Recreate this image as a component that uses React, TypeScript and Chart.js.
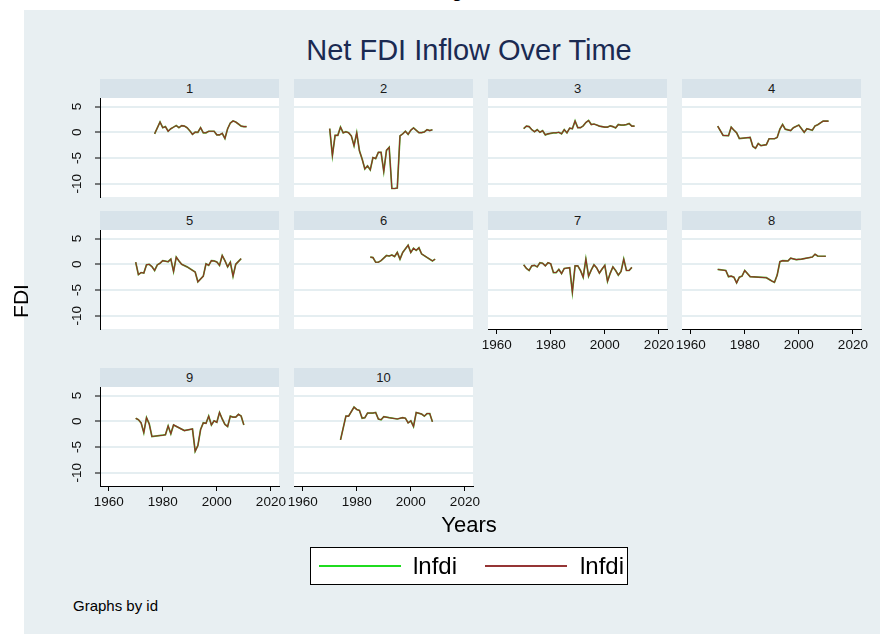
import React, { useEffect, useRef } from "react";
import { Chart, registerables } from "chart.js";

Chart.register(...registerables);

// ---------- data ----------
const years = [
  1970, 1971, 1972, 1973, 1974, 1975, 1976, 1977, 1978, 1979,
  1980, 1981, 1982, 1983, 1984, 1985, 1986, 1987, 1988, 1989,
  1990, 1991, 1992, 1993, 1994, 1995, 1996, 1997, 1998, 1999,
  2000, 2001, 2002, 2003, 2004, 2005, 2006, 2007, 2008, 2009,
  2010, 2011,
];

const panelIds = ["1", "2", "3", "4", "5", "6", "7", "8", "9", "10"];

const fdi1 = [
  null, null, null, null, null, null, null, -0.3, null, 2.0,
  0.9, 1.1, 0.2, 0.7, 1.0, 1.3, 0.9, 1.3, 1.2, 0.9,
  0.3, -0.4, 0.05, 0.0, 0.9, -0.1, -0.1, 0.2, 0.2, 0.2,
  -0.5, -0.5, -0.2, -1.2, 0.7, 1.8, 2.2, 2.0, 1.6, 1.2,
  1.1, 1.1,
];
const fdi2 = [
  0.7, -4.5, -0.6, -0.6, 1.0, -0.1, 0.1, -0.1, -0.7, -2.6,
  -0.1, -3.6, -5.2, -7.1, -6.5, -7.3, -4.9, -5.1, -3.9, -3.9,
  -7.6, -3.5, -2.9, -10.9, -10.9, -10.8, -0.7, -0.3, 0.2, -0.4,
  0.4, 0.85, null, -0.07, -0.07, 0.07, 0.5, 0.33, 0.5, null,
  null, null,
];
const fdi3 = [
  0.7, 1.2, 1.1, 0.5, 0.1, 0.5, 0.0, 0.3, -0.5, -0.3,
  -0.2, -0.1, -0.1, 0.0, -0.3, 0.5, -0.1, 0.8, 0.7, 2.2,
  0.9, 0.9, 1.25, 1.9, 2.3, 1.5, 1.6, 1.4, 1.2, 1.1,
  1.0, 1.0, 1.25, 1.1, 0.85, 1.5, 1.4, 1.4, 1.5, 1.7,
  1.2, 1.2,
];
const fdi4 = [
  1.2, null, -0.6, null, -0.66, 1.0, 0.4, -0.1, -1.2, null,
  null, null, -1.0, -2.75, -3.1, -2.2, -2.6, null, -2.4, -1.25,
  null, -1.25, -1.0, 0.6, 1.5, 0.6, null, 0.33, 0.9, null,
  1.4, null, 0.0, 0.7, null, 0.4, 1.25, 1.45, null, 2.16,
  null, 2.16,
];
const fdi5 = [
  0.4, -2.0, -1.6, -1.7, -0.1, 0.0, -0.45, -1.2, -0.1, 0.2,
  0.7, 0.6, 0.5, 1.0, -1.4, 1.4, 0.65, 0.0, null, -0.5,
  null, null, -1.5, -3.4, null, -2.3, 0.1, -0.2, 0.7, 0.65,
  0.45, -0.2, 1.7, 0.7, -0.5, 0.4, -2.3, 0.0, null, 1.1,
  null, null,
];
const fdi6 = [
  null, null, null, null, null, null, null, null, null, null,
  null, null, null, null, null, 1.4, 1.3, 0.4, 0.4, 0.7,
  null, 1.7, 1.6, 1.8, 1.5, 2.3, 1.0, 2.3, null, 3.7,
  2.3, 3.1, 2.7, 3.2, 2.0, null, null, null, 0.65, 1.0,
  null, null,
];
const fdi7 = [
  -0.1, -0.8, -1.2, -0.3, -0.2, -0.5, 0.3, 0.2, -0.3, 0.3,
  0.1, -1.6, -1.6, -1.0, -1.8, -0.8, null, -0.65, -5.4, -0.3,
  -0.3, -1.2, -2.5, 1.0, -2.3, -1.1, -0.1, -0.7, -1.7, -0.9,
  -0.2, -3.3, -1.75, -0.5, -1.2, -2.1, -1.4, 1.0, -1.2, -1.2,
  -0.6, null,
];
const fdi8 = [
  -1.0, null, null, -1.2, -2.4, -2.3, -2.5, -3.6, -2.5, -2.3,
  -1.2, null, -2.4, null, null, null, null, null, -2.6, null,
  -3.25, -3.5, -2.1, 0.5, 0.7, null, 0.65, 1.2, null, 0.9,
  null, 1.0, null, null, null, 1.4, 1.95, 1.6, null, null,
  1.56, null,
];
const fdi9 = [
  0.6, 0.3, -0.3, -2.2, 0.7, -0.5, -2.95, null, null, null,
  -2.7, -2.6, -0.9, -2.4, -0.7, null, null, null, -1.8, null,
  null, -1.5, -5.8, -4.7, -1.6, -0.3, -0.4, 1.0, -0.7, 0.1,
  -0.2, 1.7, 0.45, -0.6, -1.0, 1.0, 0.8, 0.8, 1.35, 1.0,
  -0.7, null,
];
const fdi10 = [
  null, null, null, null, -3.6, null, 1.0, 1.0, null, 2.75,
  2.3, 2.1, 0.6, 0.7, 1.6, null, 1.6, 1.7, 0.45, 0.3,
  0.9, null, 0.7, null, null, 0.45, null, 0.7, 0.6, -0.3,
  0.1, -1.0, 1.7, null, 1.4, 1.0, 1.5, 1.5, -0.1, null,
  null, null,
];

const panelValues = [fdi1, fdi2, fdi3, fdi4, fdi5, fdi6, fdi7, fdi8, fdi9, fdi10];

const xTicks = [1960, 1980, 2000, 2020];
const yTicks = [-10, -5, 0, 5];
const seriesLabels = ["lnfdi", "lnfdi"];

// ---------- style / layout ----------
const FONT = "'Liberation Sans', Arial, Helvetica, sans-serif";
const BG = "#e8eff2";
const STRIP = "#d8e3ea";
const GRID = "#e5eef1";
const GREEN = "#4fb02f";
const RED = "#8e2f26";
const LEGEND_GREEN = "#1fdc1f";
const LEGEND_RED = "#953535";

const COL_LEFT = [100, 294, 488, 682];
const ROW_TOP = [98, 230, 387];
const PLOT_W = 179;
const PLOT_H = 99;
const Y_AXIS_W = 40;
const X_AXIS_H = 30;
const PAD = 20;
const Y_LABEL_OFFSET = 23; // distance from axis line to centre of rotated label

const whitePlot = {
  id: "whitePlot",
  beforeDraw(chart: any) {
    const { ctx, chartArea } = chart;
    ctx.save();
    ctx.fillStyle = "#ffffff";
    ctx.fillRect(chartArea.left, chartArea.top, chartArea.right - chartArea.left, chartArea.bottom - chartArea.top);
    ctx.restore();
  },
};

// vertical (rotated) tick labels of the y scale, placed with the scale itself
const rotatedYLabels = {
  id: "rotatedYLabels",
  afterDraw(chart: any, _args: any, opts: any) {
    if (!opts || !opts.show) return;
    const scale = chart.scales.y;
    const { ctx } = chart;
    ctx.save();
    ctx.fillStyle = "#111";
    ctx.font = `13.5px ${FONT}`;
    ctx.textAlign = "center";
    ctx.textBaseline = "middle";
    const x = scale.right - Y_LABEL_OFFSET;
    for (const t of scale.ticks) {
      const y = scale.getPixelForValue(t.value);
      ctx.save();
      ctx.translate(x, y);
      ctx.rotate(-Math.PI / 2);
      ctx.fillText(String(t.value), 0, 0);
      ctx.restore();
    }
    ctx.restore();
  },
};

function Panel({ index }: { index: number }) {
  const ref = useRef<HTMLCanvasElement | null>(null);
  const row = Math.floor(index / 4);
  const col = index % 4;
  const showY = col === 0;
  const showX = index >= 6;
  const yW = showY ? Y_AXIS_W : 0;
  const xH = showX ? X_AXIS_H : 0;
  const width = PLOT_W + yW + PAD * 2;
  const height = PLOT_H + xH + PAD * 2;
  const left = COL_LEFT[col] - yW - PAD;
  const top = ROW_TOP[row] - PAD;

  useEffect(() => {
    const values = panelValues[index];
    const pts = years.map((yr, i) => ({ x: yr, y: values[i] }));
    const chart = new Chart(ref.current as HTMLCanvasElement, {
      type: "line",
      data: {
        datasets: [
          {
            label: seriesLabels[0],
            data: pts.map((p) => ({ ...p })),
            borderColor: GREEN,
            borderWidth: 1.7,
            pointRadius: 0,
            spanGaps: true,
            tension: 0,
            order: 2,
          },
          {
            label: seriesLabels[1],
            data: pts.map((p) => ({ ...p })),
            borderColor: RED,
            borderWidth: 1.1,
            pointRadius: 0,
            spanGaps: true,
            tension: 0,
            order: 1,
          },
        ],
      },
      options: {
        responsive: false,
        animation: false,
        devicePixelRatio: 1,
        layout: { padding: PAD },
        plugins: {
          legend: { display: false },
          tooltip: { enabled: false },
          title: { display: false },
          rotatedYLabels: { show: showY },
        },
        scales: {
          x: {
            type: "linear",
            min: 1956.8,
            max: 2023,
            display: showX,
            afterBuildTicks: (s: any) => {
              s.ticks = xTicks.map((v) => ({ value: v }));
            },
            afterFit: (s: any) => {
              s.height = showX ? X_AXIS_H : 0;
            },
            grid: {
              display: true,
              drawOnChartArea: false,
              drawTicks: true,
              tickLength: 5,
              tickColor: "#000",
              tickWidth: 1,
            },
            border: { display: true, color: "#000", width: 1 },
            ticks: {
              color: "#111",
              font: { family: FONT, size: 13.5 },
              padding: 3,
              maxRotation: 0,
              minRotation: 0,
              autoSkip: false,
              callback: (v: any) => String(v),
            },
          },
          y: {
            type: "linear",
            min: -12.55,
            max: 6.65,
            display: true,
            afterBuildTicks: (s: any) => {
              s.ticks = yTicks.map((v) => ({ value: v }));
            },
            afterFit: (s: any) => {
              s.width = showY ? Y_AXIS_W : 0;
            },
            grid: {
              color: GRID,
              lineWidth: 2,
              drawTicks: showY,
              tickLength: 5,
              tickColor: "#000",
              tickWidth: 1,
            },
            border: { display: showY, color: "#000", width: 1 },
            ticks: { display: false, autoSkip: false },
          },
        },
      } as any,
      plugins: [whitePlot, rotatedYLabels],
    });
    return () => chart.destroy();
  }, [index]);

  return (
    <>
      <canvas
        ref={ref}
        width={width}
        height={height}
        style={{ position: "absolute", left, top, width, height }}
      />
      <div
        style={{
          position: "absolute",
          left: COL_LEFT[col],
          top: ROW_TOP[row] - 19,
          width: PLOT_W,
          height: 19,
          background: STRIP,
          color: "#1a1a1a",
          font: `13px ${FONT}`,
          lineHeight: "19px",
          textAlign: "center",
        }}
      >
        {panelIds[index]}
      </div>
    </>
  );
}

export default function App() {
  return (
    <div
      style={{
        position: "fixed",
        left: 0,
        top: 0,
        width: 880,
        height: 634,
        background: "#ffffff",
        overflow: "hidden",
        fontFamily: FONT,
      }}
    >
      <div style={{ position: "absolute", left: 24, top: 10, width: 856, height: 624, background: BG }} />
      <div
        style={{
          position: "absolute",
          left: 452,
          top: -16,
          font: `bold 17px ${FONT}`,
          lineHeight: "17px",
          color: "#000",
        }}
      >
        g
      </div>
      <div
        style={{
          position: "absolute",
          left: 219,
          top: 36,
          width: 500,
          textAlign: "center",
          font: `29px ${FONT}`,
          lineHeight: "29px",
          color: "#1a2a52",
          whiteSpace: "nowrap",
        }}
      >
        Net FDI Inflow Over Time
      </div>
      {panelIds.map((_, i) => (
        <Panel key={i} index={i} />
      ))}
      <div
        style={{
          position: "absolute",
          left: 21 - 30,
          top: 301 - 12,
          width: 60,
          height: 24,
          lineHeight: "24px",
          textAlign: "center",
          font: `21px ${FONT}`,
          color: "#000",
          transform: "rotate(-90deg)",
        }}
      >
        FDI
      </div>
      <div
        style={{
          position: "absolute",
          left: 419,
          top: 513,
          width: 100,
          textAlign: "center",
          font: `22px ${FONT}`,
          lineHeight: "24px",
          color: "#000",
        }}
      >
        Years
      </div>
      <div
        style={{
          position: "absolute",
          left: 310,
          top: 547,
          width: 316,
          height: 36,
          background: "#fff",
          border: "1px solid #000",
        }}
      >
        <div style={{ position: "absolute", left: 8, top: 17, width: 82, height: 2, background: LEGEND_GREEN }} />
        <div
          style={{
            position: "absolute",
            left: 102,
            top: 4,
            font: `24px ${FONT}`,
            lineHeight: "28px",
            color: "#000",
          }}
        >
          {seriesLabels[0]}
        </div>
        <div style={{ position: "absolute", left: 174, top: 17, width: 82, height: 2, background: LEGEND_RED }} />
        <div
          style={{
            position: "absolute",
            left: 269,
            top: 4,
            font: `24px ${FONT}`,
            lineHeight: "28px",
            color: "#000",
          }}
        >
          {seriesLabels[1]}
        </div>
      </div>
      <div
        style={{
          position: "absolute",
          left: 73,
          top: 597,
          font: `15px ${FONT}`,
          lineHeight: "18px",
          color: "#000",
          whiteSpace: "nowrap",
        }}
      >
        Graphs by id
      </div>
    </div>
  );
}
